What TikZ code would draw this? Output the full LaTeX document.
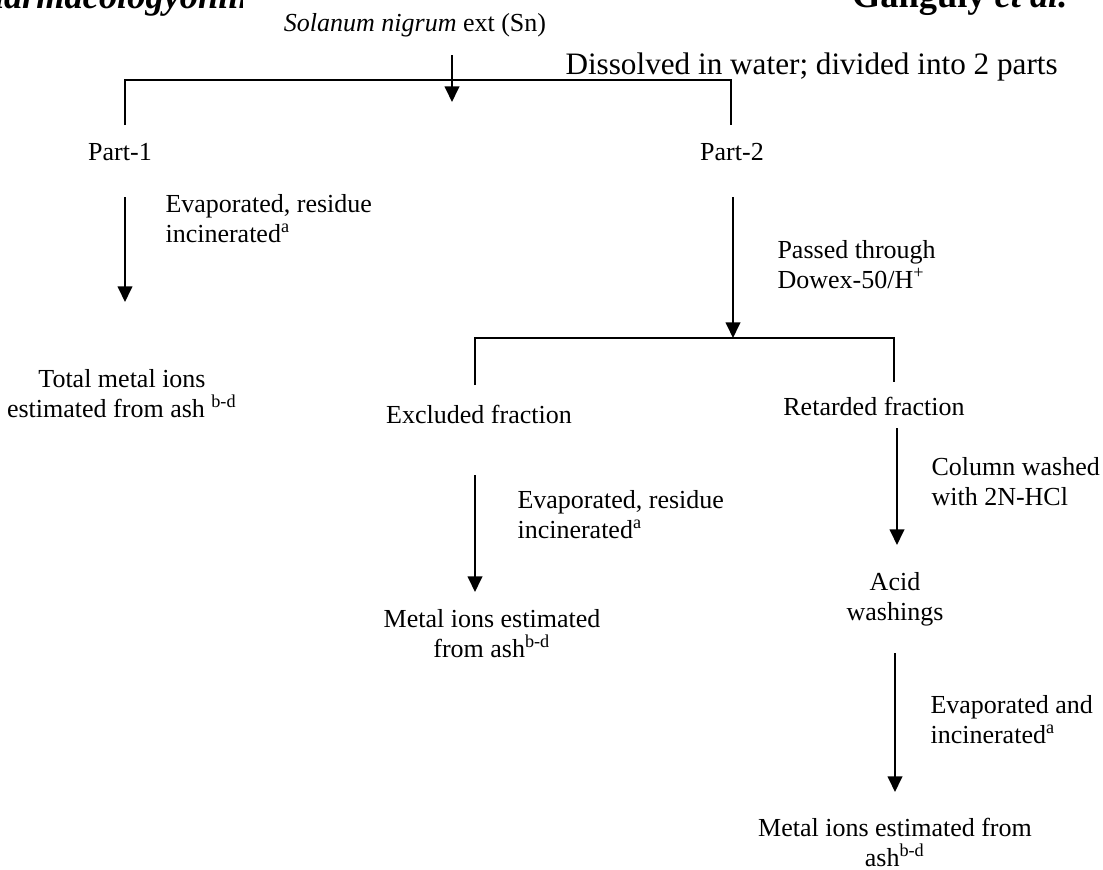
\documentclass[tikz,border=0pt]{standalone}
\usepackage{fontspec}
\setmainfont{Liberation Serif}
\usetikzlibrary{arrows.meta}
\begin{document}
\begin{tikzpicture}[x=0.3846pt,y=-0.3846pt,
    every node/.style={inner sep=0pt,font=\fontsize{10}{11.2}\selectfont},
    note/.style={anchor=base west,align=left},
    result/.style={anchor=base,align=center},
    flow/.style={line width=0.75pt,-{Triangle[length=6pt,width=5.6pt]}},
    bracket/.style={line width=0.75pt}]
    \useasboundingbox (0,0) rectangle (1103,870);
    %% Running head (cut by the page top)
    \begin{scope}
        \clip (0,0) rectangle (242,30);
        \node[anchor=base west,font=\fontsize{14}{16}\selectfont\bfseries\itshape] (journal) at (-39,9) {Pharmacologyonline};
    \end{scope}
    \node[anchor=base east,font=\fontsize{14}{16}\selectfont\bfseries] (authors) at (1068,8) {Ganguly \textit{et al.}};
    %% Extract
    \node[anchor=base] (sn) at (415,32) {\textit{Solanum nigrum} ext (Sn)};
    \node[anchor=base west,font=\fontsize{12}{13.8}\selectfont] (dissolve) at (565,75) {Dissolved in water; divided into 2 parts};
    \coordinate (snA) at (452,55);
    \coordinate (snB) at (452,102);
    \draw[flow] (snA) -- (snB);
    %% Split into two parts
    \coordinate (p1up) at (125,125);
    \coordinate (p2up) at (731,125);
    \draw[bracket] (p1up) -- ++(0,-45) -| (p2up);
    \node[anchor=base] (part1) at (120,160) {Part-1};
    \node[anchor=base] (part2) at (732,160) {Part-2};
    %% Part-1: total metal ions
    \coordinate (p1A) at (125,197);
    \coordinate (p1B) at (125,302);
    \draw[flow] (p1A) -- (p1B);
    \node[note] (evap1) at (165,242) {Evaporated, residue\\incinerated\textsuperscript{a}};
    \node[result] (total) at (122,417) {Total metal ions\\estimated from ash \textsuperscript{b-d}};
    %% Part-2: ion exchange
    \coordinate (p2A) at (733,197);
    \coordinate (p2B) at (733,338);
    \draw[flow] (p2A) -- (p2B);
    \node[note] (dowex) at (777,288) {Passed through\\Dowex-50/H\textsuperscript{+}};
    \coordinate (exup) at (475,385);
    \coordinate (reup) at (894,382);
    \draw[bracket] (exup) -- (475,338) -| (reup);
    \node[anchor=base] (excl) at (479,423) {Excluded fraction};
    \node[anchor=base] (retard) at (874,415) {Retarded fraction};
    %% Excluded fraction
    \coordinate (exA) at (475,475);
    \coordinate (exB) at (475,592);
    \draw[flow] (exA) -- (exB);
    \node[note] (evap2) at (517,538) {Evaporated, residue\\incinerated\textsuperscript{a}};
    \node[result] (metalA) at (492,657) {Metal ions estimated\\from ash\textsuperscript{b-d}};
    %% Retarded fraction
    \coordinate (reA) at (897,428);
    \coordinate (reB) at (897,545);
    \draw[flow] (reA) -- (reB);
    \node[note] (wash) at (931,505) {Column washed\\with 2N-HCl};
    \node[result] (acid) at (895,620) {Acid\\washings};
    \coordinate (acA) at (895,653);
    \coordinate (acB) at (895,792);
    \draw[flow] (acA) -- (acB);
    \node[note] (evap3) at (930,743) {Evaporated and\\incinerated\textsuperscript{a}};
    \node[result] (metalB) at (895,866) {Metal ions estimated from\\ash\textsuperscript{b-d}};
\end{tikzpicture}
\end{document}
